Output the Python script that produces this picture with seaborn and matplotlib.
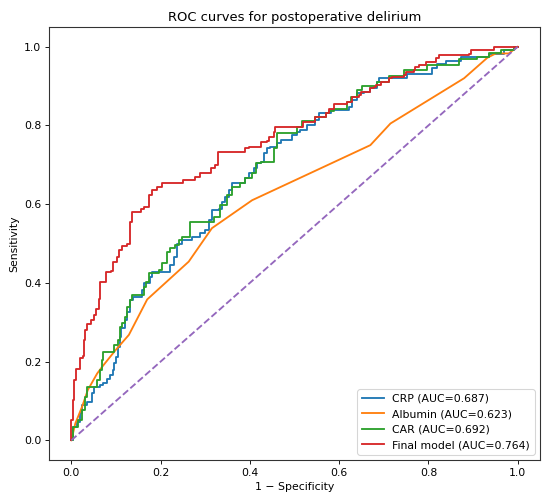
import matplotlib
matplotlib.use("Agg")
import matplotlib.pyplot as plt
import seaborn as sns
import pandas as pd

# ---- data ----
labels = ["CRP (AUC=0.687)", "Albumin (AUC=0.623)", "CAR (AUC=0.692)", "Final model (AUC=0.764)"]
colors = ["#1f77b4", "#ff7f0e", "#2ca02c", "#d62728"]

crp_fpr = [0, 0.003, 0.013, 0.02, 0.024, 0.035, 0.046, 0.05, 0.065, 0.072, 0.08, 0.087, 0.093, 0.096,
           0.099, 0.104, 0.108, 0.112, 0.121, 0.125, 0.132, 0.138, 0.158, 0.162, 0.177, 0.181, 0.222,
           0.229, 0.237, 0.248, 0.271, 0.289, 0.3, 0.308, 0.315, 0.33, 0.338, 0.345, 0.353, 0.36, 0.39,
           0.398, 0.409, 0.416, 0.424, 0.431, 0.439, 0.446, 0.461, 0.469, 0.495, 0.506, 0.513, 0.528,
           0.547, 0.555, 0.581, 0.622, 0.629, 0.641, 0.655, 0.67, 0.685, 0.689, 0.753, 0.809, 0.82,
           0.839, 0.872, 0.898, 0.936, 0.969, 0.992, 1.0]
crp_tpr = [0, 0.035, 0.047, 0.069, 0.09, 0.098, 0.119, 0.136, 0.14, 0.145, 0.157, 0.166, 0.179, 0.196,
           0.212, 0.238, 0.263, 0.285, 0.306, 0.327, 0.356, 0.363, 0.382, 0.399, 0.416, 0.428, 0.445,
           0.466, 0.5, 0.509, 0.516, 0.526, 0.534, 0.56, 0.585, 0.589, 0.606, 0.619, 0.636, 0.653, 0.666,
           0.678, 0.691, 0.704, 0.708, 0.729, 0.742, 0.746, 0.755, 0.763, 0.776, 0.784, 0.788, 0.801,
           0.814, 0.831, 0.839, 0.848, 0.864, 0.883, 0.886, 0.894, 0.911, 0.92, 0.93, 0.945, 0.955,
           0.964, 0.975, 0.975, 0.981, 0.992, 1.0, 1.0]

alb_fpr = [0, 0.009, 0.024, 0.037, 0.058, 0.072, 0.099, 0.129, 0.17, 0.263, 0.315, 0.405, 0.67,
           0.715, 0.88, 0.932, 0.951, 0.98, 1.0]
alb_tpr = [0, 0.043, 0.085, 0.128, 0.17, 0.191, 0.229, 0.268, 0.358, 0.454, 0.539, 0.61, 0.75,
           0.805, 0.92, 0.972, 0.983, 0.983, 1.0]

car_fpr = [0, 0.004, 0.016, 0.024, 0.031, 0.035, 0.057, 0.065, 0.069, 0.072, 0.095, 0.104, 0.11,
           0.114, 0.121, 0.125, 0.132, 0.136, 0.162, 0.168, 0.173, 0.196, 0.203, 0.215, 0.222, 0.233,
           0.241, 0.248, 0.265, 0.319, 0.334, 0.349, 0.36, 0.379, 0.39, 0.405, 0.413, 0.424, 0.454,
           0.461, 0.506, 0.517, 0.547, 0.57, 0.577, 0.588, 0.617, 0.626, 0.641, 0.652, 0.685, 0.711,
           0.745, 0.797, 0.868, 0.909, 0.936, 0.962, 0.992, 1.0]
car_tpr = [0, 0.035, 0.052, 0.077, 0.111, 0.136, 0.153, 0.179, 0.204, 0.225, 0.242, 0.255, 0.289,
           0.297, 0.314, 0.339, 0.356, 0.369, 0.39, 0.403, 0.424, 0.433, 0.45, 0.479, 0.488, 0.496,
           0.509, 0.517, 0.555, 0.568, 0.598, 0.623, 0.644, 0.653, 0.666, 0.678, 0.704, 0.708, 0.742,
           0.78, 0.797, 0.812, 0.822, 0.831, 0.838, 0.842, 0.86, 0.873, 0.89, 0.9, 0.911, 0.925,
           0.941, 0.954, 0.97, 0.975, 0.983, 0.992, 1.0, 1.0]

final_fpr = [0, 0, 0.004, 0.007, 0.011, 0.02, 0.026, 0.028, 0.03, 0.035, 0.044, 0.05, 0.056, 0.062,
             0.065, 0.078, 0.09, 0.093, 0.102, 0.106, 0.114, 0.125, 0.132, 0.136, 0.155, 0.162, 0.173,
             0.181, 0.192, 0.203, 0.25, 0.276, 0.288, 0.312, 0.323, 0.328, 0.388, 0.398, 0.425, 0.439,
             0.442, 0.454, 0.457, 0.519, 0.547, 0.57, 0.577, 0.588, 0.617, 0.629, 0.644, 0.648, 0.67,
             0.678, 0.682, 0.693, 0.712, 0.719, 0.745, 0.749, 0.768, 0.771, 0.779, 0.794, 0.816,
             0.824, 0.891, 0.895, 0.948, 1.0]
final_tpr = [0, 0.052, 0.103, 0.153, 0.18, 0.209, 0.214, 0.255, 0.28, 0.295, 0.306, 0.318, 0.333,
             0.359, 0.402, 0.428, 0.431, 0.454, 0.466, 0.483, 0.494, 0.5, 0.555, 0.581, 0.589, 0.594,
             0.623, 0.636, 0.643, 0.653, 0.661, 0.669, 0.68, 0.691, 0.699, 0.733, 0.742, 0.746, 0.757,
             0.761, 0.77, 0.784, 0.797, 0.81, 0.822, 0.831, 0.841, 0.854, 0.86, 0.873, 0.877, 0.886,
             0.894, 0.898, 0.904, 0.911, 0.92, 0.924, 0.928, 0.937, 0.941, 0.948, 0.954, 0.962, 0.972,
             0.979, 0.981, 0.992, 1.0, 1.0]

diag_x = [0, 1]
diag_y = [0, 1]

# ---- figure ----
fig = plt.figure(figsize=(7, 504 / (550 / 7)), dpi=550 / 7)
ax = fig.add_axes([0.0891, 0.0873, 0.8927, 0.859])

series = [(crp_fpr, crp_tpr, "steps-post"),
          (alb_fpr, alb_tpr, "default"),
          (car_fpr, car_tpr, "steps-post"),
          (final_fpr, final_tpr, "steps-post")]

for (fx, ty, ds), lab, col in zip(series, labels, colors):
    df = pd.DataFrame({"fpr": fx, "tpr": ty})
    sns.lineplot(data=df, x="fpr", y="tpr", ax=ax, color=col, linewidth=1.7,
                 estimator=None, sort=False, drawstyle=ds, label=lab, legend=False)

sns.lineplot(x=diag_x, y=diag_y, ax=ax, color="#9467bd", linestyle="--", linewidth=1.7,
             estimator=None, sort=False, legend=False)

for sp in ax.spines.values():
    sp.set_linewidth(1.0)
    sp.set_color("0.2")

ax.set_xlim(-0.05, 1.05)
ax.set_ylim(-0.05, 1.05)
ax.set_xlabel("1 \u2212 Specificity")
ax.set_ylabel("Sensitivity")
ax.set_title("ROC curves for postoperative delirium")
ax.legend(handles=ax.lines[:4], labels=labels, loc="lower right")

fig.savefig("out.png", dpi=550 / 7)
